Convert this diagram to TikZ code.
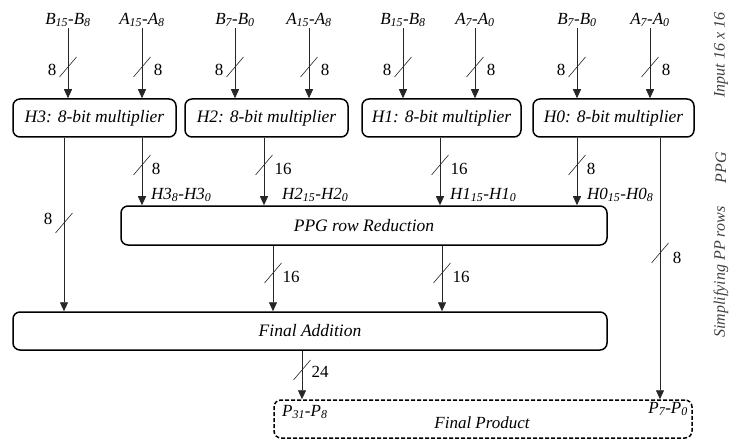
\documentclass[tikz,border=0pt]{standalone}
\usepackage{fontspec}
\setmainfont{Liberation Serif}
\usetikzlibrary{arrows.meta}
\newcommand\sbs[1]{\textsubscript{#1}}
\begin{document}
\begin{tikzpicture}[x=1pt,y=-1pt,
  box/.style={draw, line width=1.5pt, rounded corners=7pt, font=\itshape\fontsize{17.5}{20}\selectfont, inner sep=0pt},
  arr/.style={draw=black!85, line width=0.8pt, -{Triangle[length=9pt,width=8pt]}},
  ln/.style={draw=black!85, line width=0.8pt},
  sl/.style={draw=black!85, line width=0.6pt},
  lbl/.style={font=\itshape\fontsize{17}{20}\selectfont, inner sep=1pt},
  num/.style={font=\fontsize{17}{20}\selectfont, inner sep=1pt},
  side/.style={font=\itshape\fontsize{16}{19}\selectfont, rotate=90, text=black!75, inner sep=0pt}]
\useasboundingbox (0,0) rectangle (734,441);
% boxes
\node[box, minimum width=163pt, minimum height=38pt] (h3) at (94.5,118) {H3: 8-bit multiplier};
\node[box, minimum width=163pt, minimum height=38pt] (h2) at (266.5,118) {H2: 8-bit multiplier};
\node[box, minimum width=159pt, minimum height=38pt] (h1) at (441.5,118) {H1: 8-bit multiplier};
\node[box, minimum width=161pt, minimum height=38pt] (h0) at (613.5,118) {H0: 8-bit multiplier};
\node[box, minimum width=486pt, minimum height=39pt] (ppg) at (364,225.5) {PPG row Reduction};
\node[box, minimum width=594pt, minimum height=38pt] (fa) at (310,331) {Final Addition};
\node[box, dashed, dash pattern=on 4pt off 2pt, minimum width=418pt, minimum height=38pt] (fp) at (483,419) {};
\node[lbl] (fpt) at (482,423) {Final Product};
\node[lbl, anchor=west] (p31) at (281,412) {P\sbs{31}-P\sbs{8}};
\node[lbl, anchor=east] (p7) at (689,409) {P\sbs{7}-P\sbs{0}};
% top labels
\node[lbl] (i1) at (68,20) {B\sbs{15}-B\sbs{8}};
\node[lbl] (i2) at (142,20) {A\sbs{15}-A\sbs{8}};
\node[lbl] (i3) at (235,20) {B\sbs{7}-B\sbs{0}};
\node[lbl] (i4) at (309,20) {A\sbs{15}-A\sbs{8}};
\node[lbl] (i5) at (403,20) {B\sbs{15}-B\sbs{8}};
\node[lbl] (i6) at (475,20) {A\sbs{7}-A\sbs{0}};
\node[lbl] (i7) at (577,20) {B\sbs{7}-B\sbs{0}};
\node[lbl] (i8) at (650,20) {A\sbs{7}-A\sbs{0}};
\foreach \n/\b in {i1/h3,i2/h3,i3/h2,i4/h2,i5/h1,i6/h1,i7/h0,i8/h0}{
  \draw[arr] (\n.south) -- (\n.south |- \b.north);
}
\foreach \x in {68,235,403,577}{
  \draw[sl] (\x,67) +(-8.5,10) -- +(8.5,-10);
  \node[num] at (\x-16,70) {8};
}
\foreach \x in {142,309,475,650}{
  \draw[sl] (\x,67) +(-8.5,10) -- +(8.5,-10);
  \node[num] at (\x+16,70) {8};
}
% x positions
\coordinate (xa) at (64,0);
\coordinate (xb) at (142,0);
\coordinate (xc) at (264,0);
\coordinate (xd) at (440,0);
\coordinate (xe) at (577,0);
\coordinate (xf) at (660,0);
\coordinate (xg) at (273,0);
\coordinate (xh) at (442,0);
\coordinate (xi) at (302,0);
% H to PPG
\draw[arr] (xb |- h3.south) -- (xb |- ppg.north);
\draw[arr] (xc |- h2.south) -- (xc |- ppg.north);
\draw[arr] (xd |- h1.south) -- (xd |- ppg.north);
\draw[arr] (xe |- h0.south) -- (xe |- ppg.north);
\draw[sl] (142,165) +(-8.5,10) -- +(8.5,-10); \node[num] at (156,169) {8};
\draw[sl] (264,165) +(-8.5,10) -- +(8.5,-10); \node[num] at (283,169) {16};
\draw[sl] (440,165) +(-8.5,10) -- +(8.5,-10); \node[num] at (459,169) {16};
\draw[sl] (577,165) +(-8.5,10) -- +(8.5,-10); \node[num] at (591,169) {8};
\node[lbl, anchor=west] at (150,195) {H3\sbs{8}-H3\sbs{0}};
\node[lbl, anchor=west] at (281,195) {H2\sbs{15}-H2\sbs{0}};
\node[lbl, anchor=west] at (449,195) {H1\sbs{15}-H1\sbs{0}};
\node[lbl, anchor=west] at (586,195) {H0\sbs{15}-H0\sbs{8}};
% H3 direct to FA
\draw[arr] (xa |- h3.south) -- (xa |- fa.north);
\draw[sl] (64,223) +(-8.5,10) -- +(8.5,-10); \node[num] at (48,219) {8};
% H0 direct to FP
\draw[arr] (xf |- h0.south) -- (xf |- fp.north);
\draw[sl] (660,253) +(-8.5,10) -- +(8.5,-10); \node[num] at (677,258) {8};
% PPG to FA
\draw[arr] (xg |- ppg.south) -- (xg |- fa.north);
\draw[arr] (xh |- ppg.south) -- (xh |- fa.north);
\draw[sl] (273,273) +(-8.5,10) -- +(8.5,-10); \node[num] at (291,277) {16};
\draw[sl] (442,273) +(-8.5,10) -- +(8.5,-10); \node[num] at (461,277) {16};
% FA to FP
\draw[arr] (xi |- fa.south) -- (xi |- fp.north);
\draw[sl] (302,370) +(-8.5,10) -- +(8.5,-10); \node[num] at (320,372) {24};
% side labels
\node[side] (s1) at (721,55) {Input 16 x 16};
\node[side] (s2) at (721,168) {PPG};
\node[side] (s3) at (721,272) {Simplifying PP rows};
\end{tikzpicture}
\end{document}
